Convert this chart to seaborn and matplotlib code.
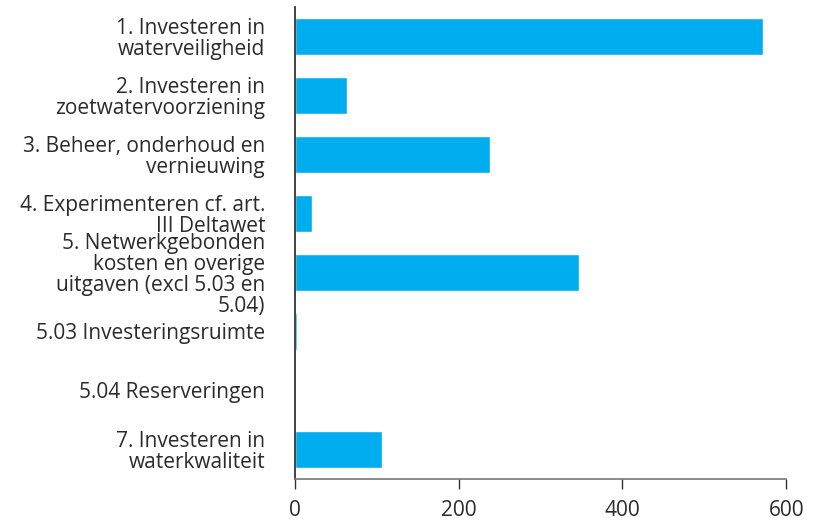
import numpy as np
import pandas as pd
import matplotlib
matplotlib.use('Agg')
import matplotlib.pyplot as plt
import seaborn as sns

# categories and values
labels = ['1. Investeren in\nwaterveiligheid',
          '2. Investeren in\nzoetwatervoorziening',
          '3. Beheer, onderhoud en\nvernieuwing',
          '4. Experimenteren cf. art.\nIII Deltawet',
          '5. Netwerkgebonden\nkosten en overige\nuitgaven (excl 5.03 en\n5.04)',
          '5.03 Investeringsruimte',
          '5.04 Reserveringen',
          '7. Investeren in\nwaterkwaliteit']
values = [572, 63, 238, 21, 347, 2, 0, 106]
xticks = [0, 200, 400, 600]

df = pd.DataFrame({'post': labels, 'bedrag': values})

sns.set_style('white')
plt.rcParams['font.family'] = ['Open Sans', 'DejaVu Sans']

fig = plt.figure(figsize=(8.16, 5.25), dpi=100)
ax = fig.add_axes([0.3615, 0.088, 0.602, 0.899])
sns.barplot(data=df, x='bedrag', y='post', orient='h', color='#00AEEF',
            saturation=1, width=0.63, ax=ax)

ax.set_xlim(0, 600)
ax.set_ylim(7.5, -0.5)
ax.set_xticks(xticks)
ax.set_xlabel('')
ax.set_ylabel('')
for s in ['top', 'right']:
    ax.spines[s].set_visible(False)
ax.spines['left'].set_color('#222222')
ax.spines['left'].set_linewidth(1.2)
ax.spines['bottom'].set_color('#777777')
ax.spines['bottom'].set_linewidth(1.2)
ax.tick_params(axis='x', bottom=True, length=7, width=1, color='#333333',
               labelsize=15, labelcolor='#2b2b2b', pad=8)
ax.tick_params(axis='y', left=False, labelsize=15, labelcolor='#2b2b2b', pad=18)
for t in ax.get_yticklabels():
    t.set_linespacing(1.0)

fig.savefig('out.png', dpi=100)
